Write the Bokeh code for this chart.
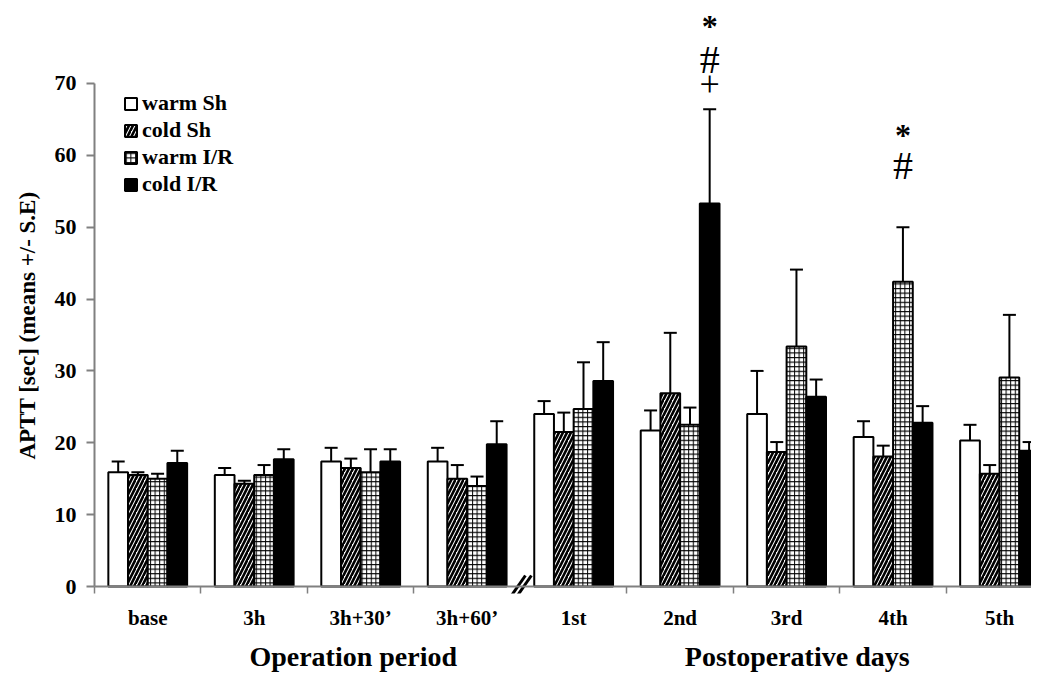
from bokeh.plotting import figure
from bokeh.models import (ColumnDataSource, FixedTicker, LinearAxis, Span, Whisker,
                          TeeHead, Legend, LegendItem, Range1d, Title)
from bokeh.embed import file_html
from bokeh.resources import INLINE
from bokeh.core.properties import value

# ---------------- data ----------------
categories = ["base", "3h", "3h+30\u2019", "3h+60\u2019", "1st", "2nd", "3rd", "4th", "5th"]
series = ["warm Sh", "cold Sh", "warm I/R", "cold I/R"]

warm_sh = [15.9, 15.5, 17.4, 17.4, 24.0, 21.7, 24.0, 20.8, 20.3]
warm_sh_se = [1.5, 1.0, 1.9, 1.9, 1.8, 2.8, 6.0, 2.2, 2.2]
cold_sh = [15.5, 14.3, 16.5, 15.0, 21.5, 26.9, 18.7, 18.1, 15.7]
cold_sh_se = [0.4, 0.4, 1.3, 1.9, 2.7, 8.4, 1.4, 1.5, 1.2]
warm_ir = [15.0, 15.5, 15.9, 14.0, 24.7, 22.5, 33.4, 42.4, 29.1]
warm_ir_se = [0.7, 1.4, 3.2, 1.3, 6.5, 2.4, 10.7, 7.6, 8.7]
cold_ir = [17.2, 17.7, 17.4, 19.8, 28.6, 53.3, 26.4, 22.8, 18.9]
cold_ir_se = [1.7, 1.4, 1.7, 3.2, 5.4, 13.1, 2.4, 2.3, 1.2]

y_ticks = [0, 10, 20, 30, 40, 50, 60, 70]
y_label = "APTT [sec] (means +/- S.E)"
group_labels = ["Operation period", "Postoperative days"]

# significance marks: category index, series index, symbol, y value
annot_cat = [5, 5, 5, 7, 7]
annot_series = [3, 3, 3, 2, 2]
annot_text = ["*", "#", "+", "*", "#"]
annot_y = [78.0, 73.4, 69.9, 62.8, 58.6]

# ---------------- layout / style ----------------
W, H = 1031, 674
BORDER_L, BORDER_B = 93, 81
X_END = 8.8
SY = 7.186            # px per y unit
TICK = 7              # px of boundary ticks below the zero line
FRAME_H = H - BORDER_B
Y0 = -TICK / SY
Y1 = Y0 + FRAME_H / SY
SX = (W - BORDER_L) / X_END
BAR_W = 0.185
offsets = [(-1.5 + k) * BAR_W for k in range(4)]
GREY = "#808080"
FONT = "Liberation Serif"
BREAK_AT = 4
group_label_pos = [2.43, 6.6]

p = figure(width=W, height=H, output_backend="svg", toolbar_location=None,
           x_range=Range1d(0, X_END), y_range=Range1d(Y0, Y1),
           x_axis_type=None, min_border_left=BORDER_L, min_border_right=0,
           min_border_top=0, min_border_bottom=BORDER_B)
p.outline_line_color = None
p.grid.visible = False
p.background_fill_color = "white"
p.border_fill_color = "white"

# y axis
ya = p.yaxis[0]
ya.ticker = FixedTicker(ticks=y_ticks)
ya.bounds = (0, 70)
ya.axis_line_color = GREY
ya.axis_line_width = 2
ya.major_tick_line_color = GREY
ya.major_tick_line_width = 2
ya.major_tick_out = 8
ya.major_tick_in = 0
ya.minor_tick_line_color = None
ya.major_label_text_font = FONT
ya.major_label_text_font_style = "bold"
ya.major_label_text_font_size = "22px"
ya.major_label_text_color = "black"
ya.major_label_standoff = 10

ytitle = Title(text=y_label, align="left", offset=134, standoff=24,
               text_font=FONT, text_font_style="bold", text_font_size="23px",
               text_color="black")
p.add_layout(ytitle, "left")

# x axis with category labels
centers = [i + 0.5 for i in range(len(categories))]
bounds_ticks = [i for i in range(len(categories)) if i != BREAK_AT]
xa = LinearAxis(ticker=FixedTicker(ticks=centers, minor_ticks=bounds_ticks),
                major_label_overrides={c: lab for c, lab in zip(centers, categories)})
xa.axis_line_color = None
xa.major_tick_line_color = None
xa.major_tick_out = 0
xa.major_tick_in = 0
xa.minor_tick_line_color = GREY
xa.minor_tick_line_width = 1.5
xa.minor_tick_in = TICK
xa.minor_tick_out = 0
xa.major_label_standoff = 12
xa.major_label_text_font = FONT
xa.major_label_text_font_style = "bold"
xa.major_label_text_font_size = "21px"
xa.major_label_text_color = "black"
p.add_layout(xa, "below")

ga = LinearAxis(ticker=FixedTicker(ticks=group_label_pos, minor_ticks=[]),
                major_label_overrides={c: lab for c, lab in zip(group_label_pos, group_labels)})
ga.axis_line_color = None
ga.major_tick_line_color = None
ga.major_tick_out = 0
ga.major_tick_in = 0
ga.minor_tick_line_color = None
ga.major_label_standoff = 8
ga.major_label_text_font = FONT
ga.major_label_text_font_style = "bold"
ga.major_label_text_font_size = "28px"
ga.major_label_text_color = "black"
p.add_layout(ga, "below")

# horizontal axis line at zero
p.add_layout(Span(location=0, dimension="width", line_color=GREY, line_width=2))

vals = [warm_sh, cold_sh, warm_ir, cold_ir]
errs = [warm_sh_se, cold_sh_se, warm_ir_se, cold_ir_se]
styles = [
    dict(fill_color="white"),
    dict(fill_color="white", hatch_pattern="/", hatch_color="black", hatch_scale=8, hatch_weight=2.6),
    dict(fill_color="white", hatch_pattern="+", hatch_color="black", hatch_scale=4.6, hatch_weight=1),
    dict(fill_color="black"),
]

items = []
for k in range(4):
    src = ColumnDataSource(dict(
        x=[c + offsets[k] for c in centers],
        top=vals[k],
        upper=[v + e for v, e in zip(vals[k], errs[k])],
    ))
    p.add_layout(Whisker(source=src, base="x", lower="top", upper="upper", dimension="height",
                         line_color="black", line_width=2,
                         upper_head=TeeHead(size=13, line_width=2, line_color="black"),
                         lower_head=None))
    r = p.vbar(x="x", top="top", bottom=0, width=BAR_W, source=src,
               line_color="black", line_width=2, **styles[k])
    items.append(LegendItem(label=series[k], renderers=[r]))

legend = Legend(items=items, location=(29, 396), orientation="vertical",
                background_fill_alpha=0, border_line_color=None,
                glyph_width=15, glyph_height=15, label_height=20, spacing=1,
                label_standoff=4, padding=0, margin=0,
                label_text_font=FONT, label_text_font_style="bold",
                label_text_font_size="22px", label_text_color="black")
p.add_layout(legend, "center")

# axis break mark "//"
bx = BREAK_AT
brk_a = ([bx + (-11) / SX, bx + 5 / SX], [-12 / SY, 11 / SY])
brk_b = ([bx + (-5) / SX, bx + 11 / SX], [-12 / SY, 11 / SY])
p.patch([brk_a[0][0], brk_a[0][1], brk_b[0][1], brk_b[0][0]],
        [brk_a[1][0], brk_a[1][1], brk_b[1][1], brk_b[1][0]],
        fill_color="white", line_color=None)
p.line(brk_a[0], brk_a[1], line_color="black", line_width=3)
p.line(brk_b[0], brk_b[1], line_color="black", line_width=3)

# significance marks
asrc = ColumnDataSource(dict(
    x=[c + 0.5 + offsets[s] for c, s in zip(annot_cat, annot_series)],
    y=annot_y,
    t=annot_text,
    fs=["32px" if t == "*" else ("36px" if t == "+" else "40px") for t in annot_text],
    st=["bold" if t == "*" else "normal" for t in annot_text],
))
p.text(x="x", y="y", text="t", source=asrc, text_font=value(FONT),
       text_font_size="fs", text_font_style="st", text_align="center",
       text_baseline="middle", text_color="black")

open("out.html", "w").write(file_html(p, INLINE))
